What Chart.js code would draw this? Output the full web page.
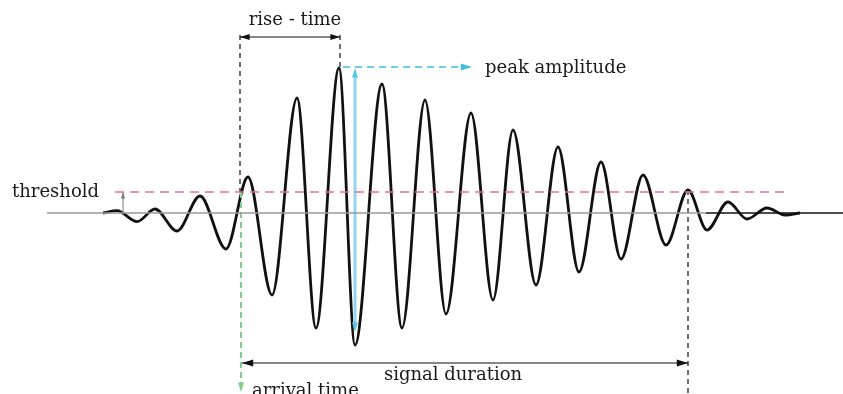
<!DOCTYPE html>
<html>
<head>
<meta charset="utf-8">
<script src="https://cdn.jsdelivr.net/npm/chart.js@4"></script>
<style>
  body { margin: 0; background: #fff; }
  #wrap { width: 843px; height: 394px; }
</style>
</head>
<body>
<div id="wrap"><canvas id="waveChart"></canvas></div>
<script>
// waveform: time of each peak / trough and its amplitude
const sigTime = [103, 117, 137, 155, 177, 200, 226, 248, 272, 297, 316, 339, 355, 382, 402, 425, 446, 471, 493, 513, 536, 558, 579, 601, 621, 643, 666, 688, 707, 728, 747, 767, 785, 800];
const sigAmp = [0, 2.3, -8.7, 4, -18, 17, -36, 36, -82, 115, -115, 145, -132, 129, -115, 113, -101, 100, -87, 83, -72, 66, -59, 51, -46, 38, -32, 23, -17, 11, -6, 5, -2, 0];

// marker values
const thresholdAmp = 21;
const arrivalTime = 240;
const peakTime = 340;
const peakAmp = 145;
const endTime = 688;
const baseStart = 47;
const baseEnd = 706;
const axisEnd = 843;

const ink = '#111';

function seg(x1, y1, x2, y2, color, width, dash) {
    return {
        data: [{x: x1, y: y1}, {x: x2, y: y2}],
        borderColor: color,
        borderWidth: width,
        borderDash: dash || [],
        pointRadius: 0,
        tension: 0
    };
}

// arrowheads, drawn at data positions
const arrows = [
    {x: 123, y: thresholdAmp, dir: 'up', color: '#777', size: 4},
    {x: arrivalTime, y: 176, dir: 'left', color: ink, size: 6},
    {x: peakTime, y: 176, dir: 'right', color: ink, size: 6},
    {x: 472, y: 146, dir: 'right', color: '#41bde3', size: 7},
    {x: 355, y: 145, dir: 'up', color: '#5cc4e6', size: 6},
    {x: 355, y: -119, dir: 'down', color: '#5cc4e6', size: 6},
    {x: 242, y: -150, dir: 'left', color: ink, size: 7},
    {x: endTime, y: -150, dir: 'right', color: ink, size: 7},
    {x: 241, y: -179, dir: 'down', color: '#7fcf8a', size: 6}
];

// y is the text baseline
const labels = [
    {text: 'rise - time', x: 295, y: 188, align: 'center'},
    {text: 'peak amplitude', x: 485, y: 140, align: 'left'},
    {text: 'threshold', x: 12, y: 16, align: 'left'},
    {text: 'signal duration', x: 453, y: -167, align: 'center'},
    {text: 'arrival time', x: 252, y: -183, align: 'left'}
];

const markPlugin = {
    id: 'marks',
    afterDatasetsDraw(chart) {
        const ctx = chart.ctx;
        const xs = chart.scales.x;
        const ys = chart.scales.y;
        ctx.save();
        arrows.forEach(a => {
            const px = xs.getPixelForValue(a.x);
            const py = ys.getPixelForValue(a.y);
            const s = a.size;
            ctx.fillStyle = a.color;
            ctx.beginPath();
            if (a.dir === 'right') {
                ctx.moveTo(px, py); ctx.lineTo(px - s * 1.6, py - s / 2); ctx.lineTo(px - s * 1.6, py + s / 2);
            } else if (a.dir === 'left') {
                ctx.moveTo(px, py); ctx.lineTo(px + s * 1.6, py - s / 2); ctx.lineTo(px + s * 1.6, py + s / 2);
            } else if (a.dir === 'up') {
                ctx.moveTo(px, py); ctx.lineTo(px - s / 2, py + s * 1.6); ctx.lineTo(px + s / 2, py + s * 1.6);
            } else {
                ctx.moveTo(px, py); ctx.lineTo(px - s / 2, py - s * 1.6); ctx.lineTo(px + s / 2, py - s * 1.6);
            }
            ctx.closePath();
            ctx.fill();
        });
        ctx.fillStyle = '#1a1a1a';
        ctx.font = '18px "DejaVu Serif", serif';
        ctx.textBaseline = 'alphabetic';
        labels.forEach(l => {
            ctx.textAlign = l.align;
            ctx.fillText(l.text, xs.getPixelForValue(l.x), ys.getPixelForValue(l.y));
        });
        ctx.restore();
    }
};

const signal = {
    data: sigTime.map((t, i) => ({x: t, y: sigAmp[i]})),
    borderColor: ink,
    borderWidth: 2.8,
    pointRadius: 0,
    cubicInterpolationMode: 'monotone'
};

const ctx = document.getElementById('waveChart').getContext('2d');
const waveChart = new Chart(ctx, {
    type: 'line',
    data: {
        datasets: [
            seg(baseStart, 0, baseEnd, 0, '#9a9a9a', 1.5),
            seg(baseEnd, 0, axisEnd, 0, ink, 1.3),
            seg(115, thresholdAmp, 790, thresholdAmp, '#ec6f86', 1.5, [9, 6]),
            seg(123, 0, 123, thresholdAmp, '#777', 1),
            seg(arrivalTime, 178, arrivalTime, thresholdAmp, ink, 1.2, [5, 4]),
            seg(241, thresholdAmp, 241, -177, '#7fcf8a', 2, [6, 4]),
            seg(arrivalTime, 176, peakTime, 176, ink, 1),
            seg(peakTime, 178, peakTime, peakAmp, ink, 1.2, [5, 4]),
            seg(343, 146, 465, 146, '#41bde3', 1.3, [7, 5]),
            seg(355, 138, 355, -112, '#93d4ea', 3),
            seg(242, -150, endTime, -150, ink, 1.2),
            seg(endTime, 23, endTime, -181, ink, 1.2, [5, 4]),
            signal
        ]
    },
    options: {
        responsive: true,
        maintainAspectRatio: false,
        animation: false,
        layout: { padding: 0 },
        plugins: {
            legend: { display: false },
            tooltip: { enabled: false }
        },
        scales: {
            x: { type: 'linear', min: 0, max: 843, display: false },
            y: { type: 'linear', min: -181, max: 213, display: false }
        }
    },
    plugins: [markPlugin]
});
</script>
</body>
</html>
